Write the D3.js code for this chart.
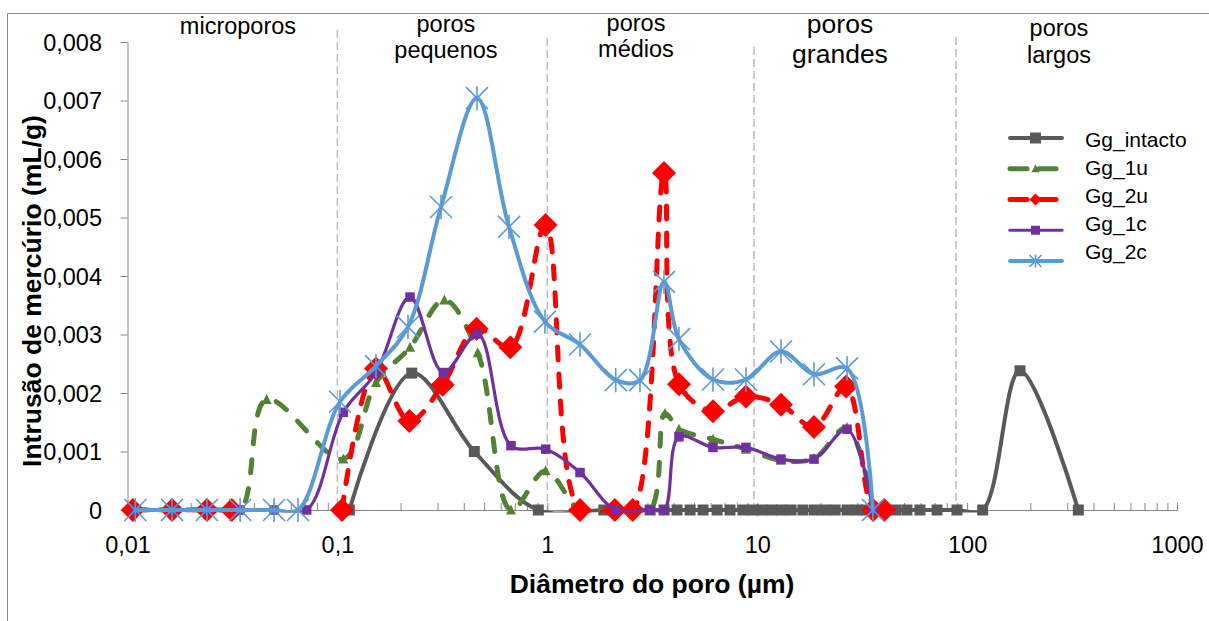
<!DOCTYPE html>
<html lang="pt">
<head>
  <meta charset="UTF-8">
  <title>Intrusão de mercúrio por diâmetro do poro</title>
  <script src="https://d3js.org/d3.v7.min.js"></script>
  <style>
    body { margin: 0; background: #fff; }
    svg { display: block; font-family: "Liberation Sans", Arial, sans-serif; }
    .tick text { fill: #000; }
  </style>
</head>
<body>
  <svg id="chart" width="1209" height="621"></svg>

  <script>
    // pore diameter (µm) and intrusion (mL/g); null = break in the line
    const ggIntacto = [
      [0.114, 0], [0.226, 0.00234], [0.449, 0.00100], [0.906, 0], [1.86, 0], [2.53, 0],
      [3.09, 0], [3.6, 0], [4.15, 0], [4.79, 0], [5.52, 0], [6.44, 0], [7.42, 0],
      [8.55, 0], [9.55, 0], [10.5, 0], [11.7, 0], [13.0, 0], [14.5, 0], [16.5, 0],
      [18.7, 0], [21, 0], [23.5, 0], [26.8, 0], [30, 0], [33, 0], [35.6, 0], [40.3, 0],
      [45.8, 0], [51.7, 0], [59.6, 0], [71.9, 0], [89.5, 0], [118.6, 0], [178.6, 0.00238], [338.8, 0]
    ];
    const gg1u = [
      [0.0109, 0], [0.0163, 0], [0.0239, 0], [0.0344, 0], [0.046, 0.00189], [0.1067, 0.00087],
      [0.1527, 0.00218], [0.2218, 0.00278], [0.3231, 0.00359], [0.4661, 0.00269], [0.6715, 0],
      [0.9827, 0.00067], [1.432, 0], [2.125, 0], [3.085, 0], [3.637, 0.00165], [4.24, 0.00138],
      [6.156, 0.00121], [8.84, 0.00104], [12.98, 0.00085], [18.65, 0.00088], [26.8, 0.00141], [35.6, 0]
    ];
    const gg2u = [
      [0.0106, 0], [0.0163, 0], [0.0239, 0], [0.0314, 0], [0.06, null], [0.1052, 0],
      [0.1527, 0.00242], [0.2203, 0.00152], [0.3174, 0.00214], [0.4603, 0.00310], [0.6666, 0.00278],
      [0.981, 0.00487], [1.432, 0], [2.097, 0], [2.552, 0], [3.597, 0.00576], [4.24, 0.00215],
      [6.156, 0.00169], [8.84, 0.00194], [12.98, 0.00180], [18.65, 0.00142], [26.5, 0.00211],
      [35.7, 0], [40.3, 0]
    ];
    const gg1c = [
      [0.0109, 0], [0.0163, 0], [0.0239, 0], [0.0344, 0], [0.0499, 0], [0.0714, 0],
      [0.1067, 0.00167], [0.1527, 0.00235], [0.2218, 0.00364], [0.3195, 0.00235], [0.4661, 0.00301],
      [0.6715, 0.00110], [0.9827, 0.00104], [1.432, 0.00064], [2.118, 0], [3.085, 0], [3.609, 0],
      [4.24, 0.00125], [6.156, 0.00107], [8.84, 0.00107], [12.98, 0.00087], [18.65, 0.00087],
      [26.8, 0.00138], [35.6, 0]
    ];
    const gg2c = [
      [0.0109, 0], [0.0163, 0], [0.0239, 0], [0.0344, 0], [0.0499, 0], [0.0649, 0],
      [0.1029, 0.00185], [0.1527, 0.00246], [0.2169, 0.00313], [0.3116, 0.00518], [0.4624, 0.00704],
      [0.657, 0.00484], [0.975, 0.00322], [1.432, 0.00283], [2.118, 0.00222], [2.764, 0.00222],
      [3.597, 0.00390], [4.24, 0.00292], [6.156, 0.00223], [8.84, 0.00223], [12.98, 0.00271],
      [18.65, 0.00232], [26.8, 0.00242], [35.6, 0]
    ];

    const seriesNames = ["Gg_intacto", "Gg_1u", "Gg_2u", "Gg_1c", "Gg_2c"];

    const xTickValues = [0.01, 0.1, 1, 10, 100, 1000];
    const xTickLabels = ["0,01", "0,1", "1", "10", "100", "1000"];
    const yTickValues = [0, 0.001, 0.002, 0.003, 0.004, 0.005, 0.006, 0.007, 0.008];
    const yTickLabels = ["0", "0,001", "0,002", "0,003", "0,004", "0,005", "0,006", "0,007", "0,008"];

    // pore classes: dividers and label centres (µm)
    const classDividers = [0.1, 1, 9.66, 88.5];
    const classLabels = [["microporos"], ["poros", "pequenos"], ["poros", "médios"], ["poros", "grandes"], ["poros", "largos"]];
    const classCenters = [0.0336, 0.329, 2.646, 24.8, 274];

    const svg = d3.select("#chart");
    const plotLeft = 127.5, plotRight = 1177, plotTop = 13, plotBottom = 510;

    const x = d3.scaleLog().domain([0.01, 1000]).range([plotLeft, plotRight]);
    const y = d3.scaleLinear().domain([0, 0.008]).range([plotBottom, 42]);

    // outer frame (only top and left edges are visible)
    svg.append("path")
      .attr("d", "M7.5,621 V13.5 H1209")
      .attr("fill", "none").attr("stroke", "#898989").attr("stroke-width", 1);

    // dividers
    const dividerTops = [30, 38, 47, 37];
    svg.selectAll(".divider").data(classDividers).enter().append("line")
      .attr("x1", d => x(d)).attr("x2", d => x(d))
      .attr("y1", (d, i) => dividerTops[i]).attr("y2", plotBottom)
      .attr("stroke", "#bdbdbd").attr("stroke-width", 1.5)
      .attr("stroke-dasharray", "8,4");

    // class labels
    const labelLayout = [
      {size: 23.5, ys: [34]},
      {size: 23.5, ys: [31.5, 58]},
      {size: 23.5, ys: [30.5, 57]},
      {size: 26.5, ys: [33, 63]},
      {size: 23.5, ys: [36, 62.5]}
    ];
    classLabels.forEach((lines, i) => {
      const t = svg.append("text")
        .attr("text-anchor", "middle")
        .attr("font-size", labelLayout[i].size)
        .attr("fill", "#000");
      lines.forEach((s, j) => {
        t.append("tspan").attr("x", x(classCenters[i])).attr("y", labelLayout[i].ys[j]).text(s);
      });
    });

    // axes
    const xAxis = svg.append("g")
      .attr("transform", `translate(0,${plotBottom})`)
      .call(d3.axisBottom(x)
        .tickValues(x.ticks())
        .tickSizeInner(-7).tickSizeOuter(0)
        .tickFormat(d => {
          const k = xTickValues.findIndex(v => Math.abs(v - d) / v < 1e-6);
          return k >= 0 ? xTickLabels[k] : "";
        }));
    xAxis.select(".domain").attr("stroke", "#868686");
    xAxis.selectAll(".tick line").attr("stroke", "#868686");
    xAxis.selectAll(".tick text").attr("y", 43).attr("dy", 0).attr("font-size", 23.5);

    const yAxis = svg.append("g")
      .attr("transform", `translate(${plotLeft},0)`)
      .call(d3.axisLeft(y)
        .tickValues(yTickValues)
        .tickSizeInner(7).tickSizeOuter(0).tickPadding(18.5)
        .tickFormat((d, i) => yTickLabels[i]));
    yAxis.select(".domain").attr("stroke", "#868686");
    yAxis.selectAll(".tick line").attr("stroke", "#868686");
    yAxis.selectAll(".tick text").attr("font-size", 23.5).attr("dy", "0.35em");

    // axis titles
    svg.append("text")
      .attr("x", 652).attr("y", 593)
      .attr("text-anchor", "middle")
      .attr("font-size", 26.5).attr("font-weight", "bold")
      .text("Diâmetro do poro (µm)");

    svg.append("text")
      .attr("transform", "translate(41,291) rotate(-90)")
      .attr("text-anchor", "middle")
      .attr("font-size", 26.5).attr("font-weight", "bold")
      .text("Intrusão de mercúrio (mL/g)");

    // series
    const markerPath = {
      square: s => `M${-s / 2},${-s / 2}h${s}v${s}h${-s}Z`,
      triangle: s => `M0,${-s * 0.55}L${s / 2},${s * 0.45}L${-s / 2},${s * 0.45}Z`,
      diamond: s => `M0,${-s / 2}L${s / 2},0L0,${s / 2}L${-s / 2},0Z`,
      star: s => `M${-s / 2},${-s / 2}L${s / 2},${s / 2}M${-s / 2},${s / 2}L${s / 2},${-s / 2}M0,${-s * 0.55}L0,${s * 0.55}`
    };

    const styles = [
      {data: ggIntacto, color: "#595959", width: 4, dash: null, marker: "square", size: 11, legendSize: 11},
      {data: gg1u, color: "#548235", width: 5, dash: "13,16", marker: "triangle", size: 10, legendSize: 8},
      {data: gg2u, color: "#ff0000", width: 5, dash: "13,14", marker: "diamond", size: 24, legendSize: 12},
      {data: gg1c, color: "#7030a0", width: 3.2, dash: null, marker: "square", size: 9.5, legendSize: 9},
      {data: gg2c, color: "#5b9bd5", width: 4, dash: null, marker: "star", size: 22, legendSize: 12}
    ];

    svg.append("clipPath").attr("id", "plot-clip")
      .append("rect").attr("x", plotLeft).attr("y", plotTop)
      .attr("width", plotRight - plotLeft).attr("height", plotBottom + 2.5 - plotTop);

    const line = d3.line()
      .defined(d => d[1] !== null)
      .x(d => x(d[0]))
      .y(d => y(d[1]))
      .curve(d3.curveCatmullRom.alpha(0.5));

    function drawMarkers(g, st, pts, size) {
      const sel = g.selectAll("path.m").data(pts).enter().append("path")
        .attr("class", "m")
        .attr("transform", d => `translate(${d[0]},${d[1]})`)
        .attr("d", markerPath[st.marker](size));
      if (st.marker === "star") {
        sel.attr("fill", "none").attr("stroke", st.color).attr("stroke-width", 1.6);
      } else {
        sel.attr("fill", st.color).attr("stroke", "none");
      }
    }

    styles.forEach(st => {
      const g = svg.append("g");
      g.append("path")
        .datum(st.data)
        .attr("clip-path", "url(#plot-clip)")
        .attr("fill", "none")
        .attr("stroke", st.color)
        .attr("stroke-width", st.width)
        .attr("stroke-linecap", "round")
        .attr("stroke-linejoin", "round")
        .attr("stroke-dasharray", st.dash)
        .attr("d", line);
      const pts = st.data.filter(d => d[1] !== null).map(d => [x(d[0]), y(d[1])]);
      drawMarkers(g, st, pts, st.size);
    });

    // legend
    const legend = svg.append("g");
    seriesNames.forEach((name, i) => {
      const st = styles[i];
      const ly = 138 + 30.75 * i;
      const g = legend.append("g");
      g.append("line")
        .attr("x1", 1010).attr("x2", 1062).attr("y1", ly).attr("y2", ly)
        .attr("stroke", st.color).attr("stroke-width", st.width)
        .attr("stroke-linecap", "round")
        .attr("stroke-dasharray", st.dash ? "17,12" : null);
      drawMarkers(g, st, [[1035.5, ly]], st.legendSize);
      legend.append("text")
        .attr("x", 1085).attr("y", 147 + 28 * i)
        .attr("font-size", 21)
        .text(name);
    });
  </script>
</body>
</html>
